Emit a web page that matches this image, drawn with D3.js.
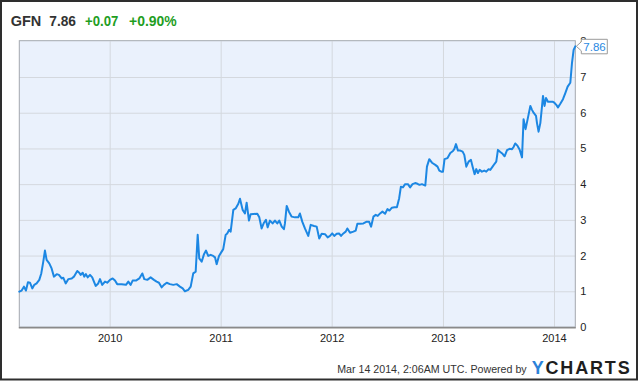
<!DOCTYPE html>
<html><head><meta charset="utf-8">
<script src="https://cdn.jsdelivr.net/npm/d3@7"></script>
<style>html,body{margin:0;padding:0;background:#fff;}svg{display:block;font-family:"Liberation Sans",Arial,sans-serif;}</style>
</head><body>
<svg id="c" width="640" height="382"></svg>
<script>
// ---- data (decimal years) ----
const dateYears = [
2009.186,2009.207,2009.228,2009.246,2009.264,2009.282,2009.303,2009.321,2009.342,2009.366,
2009.384,2009.402,2009.417,2009.432,2009.456,2009.477,2009.498,2009.523,2009.543,2009.568,
2009.582,2009.604,2009.627,2009.658,2009.678,2009.708,2009.726,2009.739,2009.757,2009.771,
2009.786,2009.802,2009.823,2009.843,2009.874,2009.897,2009.913,2009.933,2009.958,2009.978,
2010.003,2010.027,2010.048,2010.068,2010.108,2010.147,2010.168,2010.189,2010.207,2010.237,
2010.267,2010.294,2010.312,2010.339,2010.369,2010.399,2010.423,2010.444,2010.468,2010.489,
2010.514,2010.543,2010.573,2010.604,2010.633,2010.658,2010.678,2010.708,2010.730,2010.753,
2010.775,2010.793,2010.807,2010.829,2010.850,2010.868,2010.888,2010.910,2010.933,2010.949,
2010.964,2010.985,2011.009,2011.023,2011.045,2011.059,2011.077,2011.090,2011.114,2011.135,
2011.159,2011.174,2011.198,2011.219,2011.234,2011.255,2011.270,2011.330,2011.348,2011.369,
2011.390,2011.408,2011.423,2011.444,2011.468,2011.489,2011.510,2011.528,2011.550,2011.570,
2011.579,2011.595,2011.615,2011.640,2011.669,2011.699,2011.714,2011.735,2011.759,2011.789,
2011.811,2011.841,2011.865,2011.888,2011.910,2011.940,2011.964,2011.985,2012.005,2012.023,
2012.045,2012.066,2012.084,2012.105,2012.126,2012.141,2012.165,2012.195,2012.216,2012.231,
2012.255,2012.285,2012.315,2012.336,2012.354,2012.375,2012.396,2012.414,2012.435,2012.456,
2012.480,2012.501,2012.519,2012.541,2012.564,2012.586,2012.606,2012.622,2012.640,2012.660,
2012.685,2012.705,2012.726,2012.750,2012.771,2012.789,2012.811,2012.841,2012.856,2012.877,
2012.901,2012.931,2012.951,2012.967,2012.985,2013.000,2013.014,2013.041,2013.066,2013.090,
2013.102,2013.117,2013.135,2013.156,2013.177,2013.192,2013.210,2013.231,2013.252,2013.267,
2013.285,2013.300,2013.315,2013.330,2013.351,2013.372,2013.390,2013.411,2013.426,2013.447,
2013.465,2013.480,2013.495,2013.516,2013.537,2013.555,2013.577,2013.600,2013.622,2013.636,
2013.651,2013.672,2013.690,2013.712,2013.726,2013.744,2013.766,2013.787,2013.802,2013.816,
2013.838,2013.847,2013.861,2013.877,2013.892,2013.901,2013.915,2013.928,2013.946,2013.967,
2013.987,2014.003,2014.021,2014.036,2014.057,2014.081,2014.102,2014.123,2014.147,2014.162,
2014.177,2014.192
];
const prices = [
0.99,1.02,1.13,1.02,1.25,1.24,1.08,1.18,1.22,1.32,
1.50,1.83,2.14,1.88,1.78,1.64,1.41,1.48,1.46,1.36,
1.38,1.22,1.34,1.36,1.41,1.57,1.52,1.46,1.52,1.41,
1.48,1.39,1.46,1.39,1.15,1.22,1.34,1.18,1.27,1.24,
1.32,1.36,1.30,1.20,1.20,1.18,1.27,1.18,1.30,1.30,
1.36,1.50,1.34,1.32,1.39,1.32,1.27,1.24,1.11,1.18,
1.24,1.20,1.18,1.20,1.13,1.08,1.00,1.04,1.13,1.50,
1.55,2.58,1.92,1.83,2.04,2.14,1.99,2.02,1.99,1.95,
1.76,1.99,2.11,2.18,2.58,2.62,2.72,2.67,3.28,3.32,
3.45,3.59,3.28,3.18,3.48,2.98,3.16,3.17,3.07,2.76,
2.92,3.00,2.79,2.98,2.90,2.98,2.90,2.98,2.81,2.74,
2.90,3.39,3.23,3.09,3.07,3.07,3.18,2.95,2.76,2.55,
2.86,2.83,2.81,2.48,2.61,2.60,2.51,2.55,2.62,2.55,
2.61,2.62,2.55,2.62,2.67,2.76,2.64,2.67,2.70,2.89,
2.89,2.90,2.95,2.95,2.81,3.09,3.14,3.11,3.18,3.23,
3.17,3.30,3.26,3.34,3.35,3.35,3.60,3.93,3.91,4.00,
4.00,3.91,4.00,4.03,4.01,3.98,4.00,3.96,4.49,4.70,
4.60,4.54,4.49,4.38,4.35,4.35,4.70,4.73,4.87,4.93,
4.98,5.12,4.94,4.94,4.91,4.82,4.49,4.63,4.68,4.49,
4.28,4.42,4.31,4.40,4.35,4.38,4.35,4.42,4.40,4.49,
4.57,4.63,4.96,4.90,4.85,4.78,4.95,4.99,4.98,5.04,
5.14,5.07,4.97,4.75,5.82,5.54,5.87,6.19,6.08,6.00,
5.91,5.71,5.47,5.71,6.18,6.47,6.19,6.41,6.31,6.31,
6.31,6.28,6.22,6.15,6.25,6.38,6.55,6.73,6.84,7.39,
7.76,7.86
];
const yTicks = [0,1,2,3,4,5,6,7,8];
const xTickYears = [2010,2011,2012,2013,2014];
const ticker = "GFN", lastPrice = "7.86", change = "+0.07", changePct = "+0.90%";
const footerText = "Mar 14 2014, 2:06AM UTC. Powered by";

// ---- helpers ----
function toDate(t){const yr=Math.floor(t);const s=Date.UTC(yr,0,1),e=Date.UTC(yr+1,0,1);return new Date(s+(t-yr)*(e-s));}
const data = dateYears.map((t,i)=>({date:toDate(t),value:prices[i]}));

const svg = d3.select("#c");
const L=19.3,R=575.3,T=41.3,B=327;
const x = d3.scaleUtc().domain(d3.extent(data,d=>d.date)).range([L,R]);
const y = d3.scaleLinear().domain([0,8]).range([B,T]);

// outer frame
svg.append("rect").attr("x",1).attr("y",1).attr("width",636).attr("height",378.5)
  .attr("fill","#fff").attr("stroke","#2e2e2e").attr("stroke-width",2);

// plot background
svg.append("rect").attr("x",L).attr("y",40.7).attr("width",R-L).attr("height",B-40.7)
  .attr("fill","#eaf1fc");

// gridlines
const gy = svg.append("g").attr("transform",`translate(${L},0)`)
  .call(d3.axisRight(y).tickValues(yTicks.slice(1,-1)).tickSize(R-L).tickFormat(""));
gy.select(".domain").remove();
gy.selectAll("line").attr("stroke","#d4d8de").attr("stroke-width",1);
const gx = svg.append("g").attr("transform",`translate(0,${T})`)
  .call(d3.axisBottom(x).tickValues(xTickYears.map(yr=>new Date(Date.UTC(yr,0,1)))).tickSize(B-T).tickFormat(""));
gx.select(".domain").remove();
gx.selectAll("line").attr("stroke","#d4d8de").attr("stroke-width",1);

// plot border
svg.append("rect").attr("x",L).attr("y",40.7).attr("width",R-L).attr("height",B-40.7)
  .attr("fill","none").attr("stroke","#a4a8ae").attr("stroke-width",1);
svg.append("line").attr("x1",L-0.5).attr("x2",R+0.5).attr("y1",B+0.8).attr("y2",B+0.8)
  .attr("stroke","#8a8a8a").attr("stroke-width",1.5);

// line
svg.append("path").datum(data)
  .attr("d",d3.line().x(d=>x(d.date)).y(d=>y(d.value)))
  .attr("fill","none").attr("stroke","#1c87e3").attr("stroke-width",2)
  .attr("stroke-linejoin","round").attr("stroke-linecap","round");

// y axis labels
const ay = svg.append("g").attr("transform",`translate(${R},0)`)
  .call(d3.axisRight(y).tickValues(yTicks).tickSize(0).tickPadding(5).tickFormat(d3.format("d")));
ay.select(".domain").remove();
ay.selectAll("text").attr("font-size",11).attr("fill","#222").attr("font-family","Liberation Sans, Arial, sans-serif");

// x axis labels
const ax = svg.append("g").attr("transform",`translate(0,${B+1})`)
  .call(d3.axisBottom(x).tickValues(xTickYears.map(yr=>new Date(Date.UTC(yr,0,1)))).tickSize(0).tickPadding(6.5).tickFormat(d3.utcFormat("%Y")));
ax.select(".domain").remove();
ax.selectAll("text").attr("font-size",11).attr("fill","#222").attr("font-family","Liberation Sans, Arial, sans-serif");

// last value callout
const last = data[data.length-1];
const lx = x(last.date)+1, ly = y(last.value);
svg.append("path")
  .attr("d",`M${lx},${ly} L${lx+5},${ly-4.5} L${lx+5},${ly-7} L${lx+31},${ly-7} L${lx+31},${ly+7.5} L${lx+5},${ly+7.5} L${lx+5},${ly+4.5} Z`)
  .attr("fill","#fff").attr("stroke","#9a9a9a").attr("stroke-width",1);
svg.append("text").attr("x",lx+7).attr("y",ly+4.3).attr("font-size",11.5).attr("fill","#2a8ae2")
  .text(d3.format(".2f")(last.value));

// header
const hdr = svg.append("text").attr("y",26).attr("font-size",14.5).attr("font-weight","bold");
svg.append("text").attr("x",10.7).attr("y",26).attr("font-size",14.5).attr("font-weight","bold").attr("fill","#333").text(ticker);
svg.append("text").attr("x",49.3).attr("y",26).attr("font-size",14.5).attr("font-weight","bold").attr("fill","#333").attr("textLength",26.7).attr("lengthAdjust","spacingAndGlyphs").text(lastPrice);
svg.append("text").attr("x",85).attr("y",26).attr("font-size",14.5).attr("font-weight","bold").attr("fill","#1f9e1f").attr("textLength",33.3).attr("lengthAdjust","spacingAndGlyphs").text(change);
svg.append("text").attr("x",129).attr("y",26).attr("font-size",14.5).attr("font-weight","bold").attr("fill","#1f9e1f").attr("textLength",47.7).attr("lengthAdjust","spacingAndGlyphs").text(changePct);

// footer
svg.append("text").attr("x",526.7).attr("y",373).attr("text-anchor","end").attr("font-size",11).attr("fill","#333")
  .attr("textLength",189.5).attr("lengthAdjust","spacingAndGlyphs").text(footerText);
const logo = svg.append("text").attr("x",531.7).attr("y",374).attr("font-size",18).attr("font-weight","bold")
  .attr("textLength",98).attr("lengthAdjust","spacing");
logo.append("tspan").attr("fill","#2b82d9").text("Y");
logo.append("tspan").attr("fill","#1e1e1e").text("CHARTS");
</script>
</body></html>
